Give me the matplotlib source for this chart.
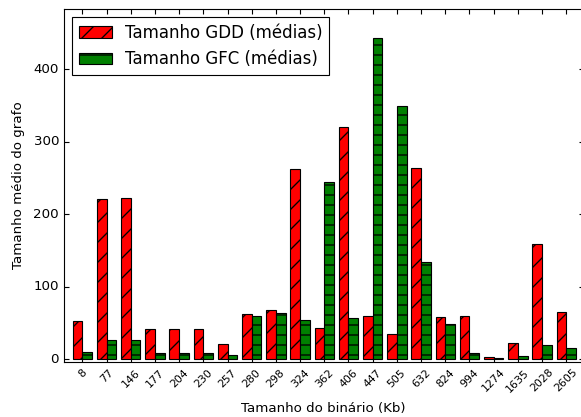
import numpy as np
import matplotlib
matplotlib.use("Agg")
import matplotlib.pyplot as plt

# tamanhos dos binários (Kb)
binarios = ["8", "77", "146", "177", "204", "230", "257", "280", "298", "324",
            "362", "406", "447", "505", "632", "824", "994", "1274", "1635",
            "2028", "2605"]
gdd = [53, 221, 222, 42, 42, 42, 21, 62, 68, 262, 43, 321, 60, 34, 264, 58,
       60, 3, 22, 159, 65]
gfc = [10, 26, 26, 8, 8, 8, 5, 59, 64, 54, 244, 57, 444, 350, 134, 48, 8, 1,
       4, 19, 15]

plt.style.use("classic")
plt.rcParams["hatch.linewidth"] = 0.8

fig = plt.figure(figsize=(581 / 120, 417 / 120), dpi=120, facecolor="white")
ax = fig.add_axes([0.1093, 0.1326, 0.894, 0.8458])
ax.set_facecolor("white")

ind = np.arange(len(binarios))
width = 0.4

ax.bar(ind, gdd, width, align="edge", color="r", edgecolor="k",
       linewidth=0.67, hatch="//", label="Tamanho GDD (médias)")
ax.bar(ind + width, gfc, width, align="edge", color="g", edgecolor="k",
       linewidth=0.67, hatch="--", label="Tamanho GFC (médias)")

ax.set_xlim(-0.38, 21.09)
ax.set_ylim(-3.7, 483.4)
ax.set_yticks([0, 100, 200, 300, 400])
ax.set_xticks(ind + width)
ax.set_xticklabels(binarios, rotation=45)

ax.tick_params(direction="in", length=2.7, width=0.67, pad=2.7, labelsize=8)
ax.tick_params(axis="x", labelsize=6.6, pad=3.3)
for s in ax.spines.values():
    s.set_linewidth(0.67)

ax.set_xlabel("Tamanho do binário (Kb)", fontsize=8, labelpad=5)
ax.set_ylabel("Tamanho médio do grafo", fontsize=8, labelpad=5)

leg = ax.legend(loc="upper left", fontsize=10)
leg.get_frame().set_linewidth(0.67)

fig.savefig("out.png", dpi=120, facecolor="white")
